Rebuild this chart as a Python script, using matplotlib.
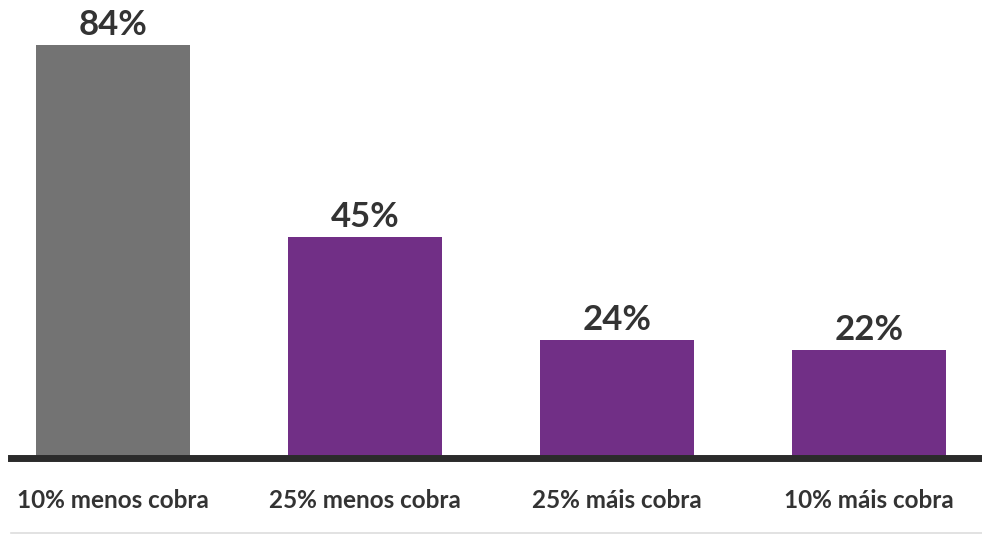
import matplotlib
matplotlib.use("Agg")
import matplotlib.pyplot as plt
from matplotlib.lines import Line2D

categories = ["10% menos cobra", "25% menos cobra", "25% máis cobra", "10% máis cobra"]
values = [84, 45, 24, 22]
colors = ["#737373", "#712f86", "#712f86", "#712f86"]

plt.rcParams["font.family"] = ["Lato", "DejaVu Sans"]

fig = plt.figure(figsize=(9.82, 5.34), dpi=100)
# axes spans the plotting strip above the thick baseline
ax = fig.add_axes([11 / 982, 76 / 534, 971 / 982, 458 / 534])

x = list(range(len(values)))
bars = ax.bar(x, values, width=0.611, color=colors, zorder=1)

for rect, v in zip(bars, values):
    ax.annotate(f"{v}%", (rect.get_x() + rect.get_width() / 2, v),
                xytext=(0, 3), textcoords="offset points",
                ha="center", va="bottom", fontsize=25, fontweight="bold",
                color="#333333")

ax.set_xlim(-0.405, 3.448)
ax.set_ylim(0, 84 * 458 / 413)

ax.set_xticks(x)
ax.set_xticklabels(categories, fontsize=17.5, fontweight="bold", color="#333333")
ax.tick_params(axis="x", length=0, pad=22)
ax.set_yticks([])

for side in ["top", "left", "right"]:
    ax.spines[side].set_visible(False)
ax.spines["bottom"].set_linewidth(5)
ax.spines["bottom"].set_color("#2b2b2b")
ax.spines["bottom"].set_zorder(3)

# thin rule under the category labels
fig.add_artist(Line2D([11 / 982, 1], [1.5 / 534, 1.5 / 534],
                      transform=fig.transFigure, color="#dddddd", linewidth=1.2))

fig.savefig("out.png", dpi=100)
